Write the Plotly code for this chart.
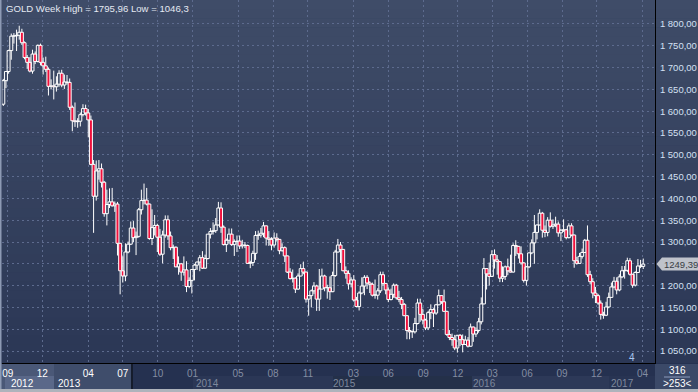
import plotly.graph_objects as go
import pandas as pd

# ---------------- data (weekly OHLC) ----------------
week_start = "2012-08-20"

opens = [1616,1670,1691,1739,1772,1773,1774,1781,1757,1723,1712,1692,1731,1714,1751,1712,1704,1696,1657,1658,
         1656,1662,1687,1660,1667,1666,1609,1578,1576,1577,1592,1606,1596,1580,1478,1405,1463,1468,1437,1365,
         1386,1392,1383,1387,1297,1234,1222,1277,1295,1332,1310,1313,1374,1395,1396,1387,1308,1333,1338,1311,
         1272,1316,1351,1314,1287,1288,1243,1250,1231,1236,1198,1212,1237,1247,1254,1264,1240,1262,1318,1324,
         1326,1339,1378,1334,1294,1304,1318,1294,1301,1302,1291,1293,1292,1251,1253,1274,1315,1316,1320,1337,
         1309,1306,1293,1309,1306,1280,1287,1268,1231,1216,1217,1192,1222,1239,1231,1169,1177,1188,1199,1169,
         1192,1222,1195,1195,1186,1223,1277,1293,1283,1234,1228,1204,1213,1167,1152,1183,1199,1219,1206,1203,
         1178,1178,1188,1225,1205,1190,1168,1180,1201,1172,1168,1157,1131,1097,1094,1094,1113,1160,1134,1121,
         1103,1138,1145,1137,1156,1177,1163,1141,1088,1081,1076,1057,1086,1076,1065,1075,1061,1105,1089,1097,
         1117,1158,1239,1227,1221,1271,1259,1255,1217,1221,1243,1234,1231,1292,1290,1273,1252,1212,1243,1275,
         1298,1322,1339,1366,1327,1322,1350,1336,1339,1341,1321,1327,1328,1310,1337,1316,1257,1251,1267,1276,
         1304,1225,1209,1183,1177,1160,1134,1132,1151,1173,1197,1210,1190,1220,1234,1235,1257,1226,1201,1230,
         1245,1244]
highs = [1674,1692,1741,1778,1779,1787,1795.96,1789,1760,1729,1724,1741,1737,1753,1755,1723,1725,1700,1673,1693,
         1680,1694,1695,1684,1683,1675,1613,1620,1584,1597,1616,1615,1605,1590,1488,1487,1488,1480,1440,1420,
         1423,1424,1393,1392,1298,1267,1297,1301,1347,1348,1324,1378,1420,1434,1424,1388,1375,1362,1342,1330,
         1326,1361,1361,1324,1294,1290,1267,1252,1267,1256,1219,1238,1250,1255,1270,1279,1271,1318,1332,1345,
         1355,1392,1391,1338,1308,1331,1331,1306,1315,1315,1305,1300,1294,1257,1280,1325,1326,1332,1346,1338,
         1325,1311,1322,1320,1307,1297,1290,1269,1240,1237,1219,1228,1249,1255,1232,1178,1191,1208,1202,1238,
         1239,1225,1202,1221,1232,1282,1307,1300,1284,1244,1235,1219,1224,1174,1187,1219,1224,1224,1210,1207,
         1214,1194,1232,1232,1206,1196,1193,1205,1204,1188,1174,1160,1132,1105,1097,1126,1170,1170,1147,1124,
         1142,1157,1148,1158,1191,1178,1191,1142,1098,1090,1087,1087,1089,1088,1085,1082,1113,1106,1104,1126,
         1173,1263,1240,1253,1281,1283,1270,1256,1244,1246,1262,1271,1297,1304,1291,1290,1254,1245,1276,1306,
         1362,1340,1375,1369,1338,1357,1368,1352,1358,1347,1330,1352,1330,1343,1343,1317,1266,1275,1285,1307,
         1338,1234,1217,1197,1181,1166,1140,1163,1184,1207,1220,1219,1226,1245,1245,1264,1263,1227,1233,1261,
         1259,1262]
lows = [1612,1653,1686,1718,1755,1738,1764,1752,1719,1697,1689,1686,1708,1712,1705,1684,1690,1636,1650,1627,
        1645,1656,1655,1651,1661,1603,1554,1564,1562,1565,1588,1590,1540,1476,1321,1395,1443,1425,1358,1338,
        1378,1381,1369,1269,1180,1207,1210,1274,1293,1300,1270,1310,1363,1386,1384,1305,1293,1315,1277,1268,
        1251,1310,1305,1281,1261,1242,1225,1211,1223,1185,1194,1182,1212,1236,1233,1238,1238,1260,1308,1317,
        1321,1338,1321,1292,1277,1296,1291,1268,1277,1284,1285,1286,1250,1240,1245,1259,1305,1310,1311,1292,
        1291,1281,1287,1301,1272,1278,1254,1229,1214,1207,1183,1190,1221,1226,1161,1131,1150,1181,1142,1142,
        1192,1187,1170,1167,1185,1220,1276,1252,1233,1216,1191,1196,1164,1150,1143,1180,1178,1192,1183,1175,
        1170,1168,1183,1200,1180,1162,1166,1172,1168,1162,1146,1130,1077,1077,1080,1090,1111,1117,1111,1098,
        1098,1123,1105,1133,1155,1158,1140,1085,1075,1062,1052,1046.3,1061,1047,1064,1058,1060,1071,1082,1092,
        1111,1157,1191,1200,1220,1239,1225,1208,1208,1213,1224,1230,1230,1268,1262,1248,1207,1200,1240,1272,
        1250,1306,1338,1310,1311,1313,1333,1330,1334,1312,1302,1323,1306,1308,1313,1241,1248,1250,1262,1275,
        1220,1203,1171,1160,1156,1122,1124,1130,1148,1172,1194,1180,1187,1217,1216,1231,1223,1195,1198,1229,
        1240,1238]
closes = [1670,1691,1739,1772,1773,1774,1781,1757,1723,1712,1692,1731,1714,1751,1712,1704,1696,1657,1658,1656,
          1662,1687,1660,1667,1666,1609,1578,1576,1577,1592,1606,1596,1580,1478,1405,1463,1468,1437,1365,1386,
          1392,1383,1387,1297,1234,1222,1277,1295,1332,1310,1313,1374,1395,1396,1387,1308,1333,1338,1311,1272,
          1316,1351,1314,1287,1288,1243,1250,1231,1236,1198,1212,1237,1247,1254,1264,1240,1262,1318,1324,1326,
          1339,1378,1334,1294,1304,1318,1294,1301,1302,1291,1293,1292,1251,1253,1274,1315,1316,1320,1337,1309,
          1306,1293,1309,1306,1280,1287,1268,1231,1216,1217,1192,1222,1239,1231,1169,1177,1188,1199,1169,1192,
          1222,1195,1195,1186,1223,1277,1293,1283,1234,1228,1204,1213,1167,1152,1183,1199,1219,1206,1203,1178,
          1178,1188,1225,1205,1190,1168,1180,1201,1172,1168,1157,1131,1097,1094,1094,1113,1160,1134,1121,1103,
          1138,1145,1137,1156,1177,1163,1141,1088,1081,1076,1057,1086,1076,1065,1075,1061,1105,1089,1097,1117,
          1158,1239,1227,1221,1271,1259,1255,1217,1221,1243,1234,1231,1292,1290,1273,1252,1212,1243,1275,1298,
          1322,1339,1366,1327,1322,1350,1336,1339,1341,1321,1327,1328,1310,1337,1316,1257,1251,1267,1276,1304,
          1225,1209,1183,1177,1160,1134,1132,1151,1173,1197,1210,1190,1220,1234,1235,1257,1226,1201,1230,1245,
          1244,1249.39]

# axis ticks
y_tick_vals = [1050, 1100, 1150, 1200, 1250, 1300, 1350, 1400, 1450, 1500, 1550, 1600, 1650, 1700, 1750, 1800]
y_tick_text = ["1 050,00", "1 100,00", "1 150,00", "1 200,00", "1 250,00", "1 300,00", "1 350,00", "1 400,00",
               "1 450,00", "1 500,00", "1 550,00", "1 600,00", "1 650,00", "1 700,00", "1 750,00", "1 800,00"]
month_tick_dates = ["2012-09-01", "2012-12-01", "2013-04-01", "2013-07-01", "2013-10-01", "2014-01-01",
                    "2014-05-01", "2014-08-01", "2014-11-01", "2015-03-01", "2015-06-01", "2015-09-01",
                    "2015-12-01", "2016-03-01", "2016-06-01", "2016-09-01", "2016-12-01", "2017-04-01"]
month_tick_labels = ["09", "12", "04", "07", "10", "01", "05", "08", "11", "03", "06", "09", "12", "03", "06",
                     "09", "12", "04"]
month_label_bright = [True, True, True, True] + [False] * 14
year_labels = ["2012", "2013", "2014", "2015", "2016", "2017"]
year_label_dates = ["2012-09-03", "2013-01-07", "2014-01-06", "2015-01-01", "2016-01-04", "2017-01-02"]
year_label_bright = [True, True, False, False, False, False]

title_text = "GOLD Week High = 1795,96 Low = 1046,3"
last_price = closes[-1]
last_price_text = "1249,39"
nav_top, nav_bottom = "316", ">253<"

# ---------------- figure ----------------
W, H = 698, 392
FONT = "Liberation Sans, Arial, sans-serif"
UP_FILL = "rgba(0,0,0,0)"
DOWN_FILL = "#f0103c"
def fx(px):
    return px / W
def fy(py):
    return 1 - py / H

dates = pd.date_range(week_start, periods=len(closes), freq="7D")

# candle bodies as bars (base = lower of open/close) and wicks outside the body
body_base = [min(o, c) for o, c in zip(opens, closes)]
body_size = [max(abs(c - o), 0.8) for o, c in zip(opens, closes)]
body_fill = [DOWN_FILL if c < o else UP_FILL for o, c in zip(opens, closes)]
wick_x, wick_y = [], []
for d, o, h, l, c in zip(dates, opens, highs, lows, closes):
    top, bot = max(o, c), min(o, c)
    if h > top:
        wick_x += [d, d, None]
        wick_y += [top, h, None]
    if l < bot:
        wick_x += [d, d, None]
        wick_y += [l, bot, None]

week_ms = 7 * 24 * 3600 * 1000
fig = go.Figure()
fig.add_trace(go.Scatter(x=wick_x, y=wick_y, mode="lines", line=dict(color="#ffffff", width=1),
                         hoverinfo="skip", showlegend=False))
fig.add_trace(go.Bar(x=dates, y=body_size, base=body_base, width=week_ms * 1.12,
                     marker=dict(color=body_fill, line=dict(color="#ffffff", width=1)),
                     hoverinfo="skip", showlegend=False))

shapes = []
# vertical gradient background (plot + right label panel)
top_c = (63, 76, 104)
bot_c = (43, 55, 85)
N = 40
for i in range(N):
    t = (i + 0.5) / N
    c = tuple(int(round(top_c[k] + (bot_c[k] - top_c[k]) * t)) for k in range(3))
    y0 = 363 * i / N
    y1 = 363 * (i + 1) / N + 0.6
    shapes.append(dict(type="rect", xref="paper", yref="paper", x0=0, x1=1, y0=fy(y1), y1=fy(y0),
                       fillcolor="rgb(%d,%d,%d)" % c, line=dict(width=0), layer="below"))

def rect(x0, x1, y0, y1, color, layer="below"):
    shapes.append(dict(type="rect", xref="paper", yref="paper", x0=fx(x0), x1=fx(x1), y0=fy(y1), y1=fy(y0),
                       fillcolor=color, line=dict(width=0), layer=layer))

# bottom time band
rect(0, 698, 363, 392, "#253150")
rect(0, 54, 364, 389, "#4a5877")
rect(5, 54, 376, 389, "#5a6889")
rect(54, 131, 364, 389, "#3f4d6b")
rect(131, 133, 364, 389, "#151c2c")
rect(193, 333, 376, 389, "#2b3756")
rect(333, 472, 376, 389, "#243049")
rect(472, 609, 376, 389, "#2d3958")
rect(609, 655, 376, 389, "#283453")
rect(655, 698, 364, 389, "#3b4968")
rect(0, 698, 389, 392, "#aeb3bc")
rect(0, 1.5, 0, 389, "#8d9ab4")
# nav box separator
shapes.append(dict(type="line", xref="paper", yref="paper", x0=fx(664), x1=fx(690), y0=fy(377), y1=fy(377),
                   line=dict(color="#8c9bbb", width=1)))
# last price tag (arrow box) positioned on the price scale
half = 6.5 / 0.4365
shapes.append(dict(type="path", xref="paper", yref="y",
                   path="M %f,%f L %f,%f L %f,%f L %f,%f L %f,%f Z" % (
                       fx(656.5), last_price, fx(662), last_price + half, fx(698), last_price + half,
                       fx(698), last_price - half, fx(662), last_price - half),
                   fillcolor="#bfc3cb", line=dict(width=0), layer="above"))

annotations = [
    dict(text=title_text, xref="paper", yref="paper", x=fx(4), y=fy(8), xanchor="left", yanchor="middle",
         showarrow=False, font=dict(family=FONT, size=9.6, color="#e4e9f2")),
    dict(text=last_price_text, xref="paper", yref="y", x=fx(662), y=last_price, xanchor="left", yanchor="middle",
         showarrow=False, font=dict(family=FONT, size=9.5, color="#3a3d44")),
    dict(text="4", xref="paper", yref="paper", x=fx(632), y=fy(357), xanchor="center", yanchor="middle",
         showarrow=False, font=dict(family=FONT, size=10, color="#a9c6ee")),
    dict(text=nav_top, xref="paper", yref="paper", x=fx(677), y=fy(370.5), xanchor="center", yanchor="middle",
         showarrow=False, font=dict(family=FONT, size=10, color="#ffffff")),
    dict(text=nav_bottom, xref="paper", yref="paper", x=fx(677), y=fy(383), xanchor="center", yanchor="middle",
         showarrow=False, font=dict(family=FONT, size=10, color="#ffffff")),
]
for lbl, d, bright in zip(year_labels, year_label_dates, year_label_bright):
    annotations.append(dict(text=lbl, xref="x", yref="paper", x=d, y=fy(383), xanchor="left", yanchor="middle",
                            showarrow=False,
                            font=dict(family=FONT, size=10, color="#ffffff" if bright else "#7e889d")))

tick_text = ['<span style="color:%s">%s</span>' % ("#ffffff" if b else "#838da2", t)
             for t, b in zip(month_tick_labels, month_label_bright)]

grid_color = "#5d6b8e"
fig.update_layout(
    template="none",
    width=W, height=H,
    margin=dict(l=0, r=0, t=0, b=0, pad=0),
    paper_bgcolor="#253150",
    plot_bgcolor="rgba(0,0,0,0)",
    shapes=shapes,
    annotations=annotations,
    showlegend=False,
    hovermode=False,
    barmode="overlay",
    xaxis=dict(
        type="date", domain=[fx(2), fx(655)], automargin=False,
        range=["2012-08-16 14:00", "2017-05-04"],
        tickmode="array", tickvals=month_tick_dates, ticktext=tick_text,
        tickfont=dict(family=FONT, size=10, color="#ffffff"),
        ticks="", ticklabelstandoff=1,
        showgrid=True, gridcolor=grid_color, griddash="2px,3px", gridwidth=1,
        showline=True, linecolor="#000000", linewidth=1, zeroline=False, fixedrange=True,
    ),
    yaxis=dict(
        domain=[fy(363), 1], side="right", automargin=False,
        range=[1022.5, 1855],
        tickmode="array", tickvals=y_tick_vals, ticktext=y_tick_text,
        tickfont=dict(family=FONT, size=9.5, color="#d4e0f3"),
        ticks="", ticklabelstandoff=2,
        showgrid=True, gridcolor=grid_color, griddash="2px,3px", gridwidth=1,
        showline=True, linecolor="#000000", linewidth=1, zeroline=False, fixedrange=True,
    ),
)

fig.write_html("out.html", config={"displayModeBar": False},
               post_script="document.body.style.margin='0';document.body.style.padding='0';"
                           "document.body.style.overflow='hidden';")
